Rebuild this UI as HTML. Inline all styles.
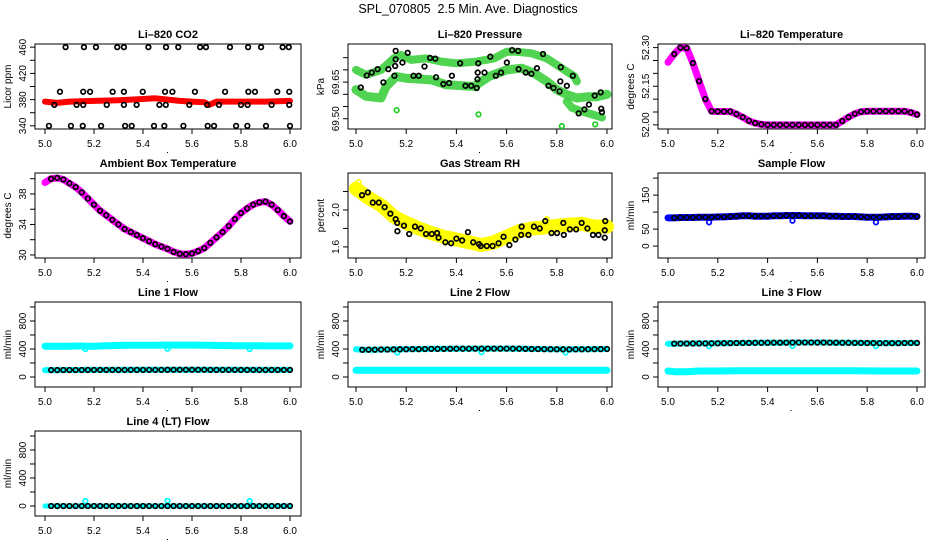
<!DOCTYPE html>
<html><head><meta charset="utf-8"><style>
html,body{margin:0;padding:0;background:#fff}
svg{display:block;font-family:"Liberation Sans",Arial,sans-serif}
</style></head><body>
<svg id="chart" width="936" height="540" viewBox="0 0 936 540" xmlns="http://www.w3.org/2000/svg">
<rect width="936" height="540" fill="#fff"/>
<text x="468" y="13" text-anchor="middle" font-size="12.5">SPL_070805&#160; 2.5 Min. Ave. Diagnostics</text>
</svg>
<script>
const gridX=[5.000,5.025,5.050,5.075,5.100,5.125,5.150,5.175,5.200,5.225,5.250,5.275,5.300,5.325,5.350,5.375,5.400,5.425,5.450,5.475,5.500,5.525,5.550,5.575,5.600,5.625,5.650,5.675,5.700,5.725,5.750,5.775,5.800,5.825,5.850,5.875,5.900,5.925,5.950,5.975,6.000];
const xTicks=[5.0,5.2,5.4,5.6,5.8,6.0];
const xTickLabels=["5.0","5.2","5.4","5.6","5.8","6.0"];
// P1 CO2
const co2RedX=[5.00,5.05,5.10,5.20,5.30,5.40,5.45,5.50,5.55,5.60,5.65,5.67,5.70,5.80,5.90,6.00];
const co2RedY=[377,375,377,378,379,381,382,380,378,377,376,372,377,377,377,378];
const co2BlkX=[5.084,5.159,5.208,5.295,5.322,5.422,5.494,5.544,5.633,5.657,5.755,5.829,5.882,5.970,5.995,5.061,5.156,5.184,5.276,5.322,5.399,5.490,5.520,5.612,5.735,5.830,5.857,5.948,5.997,5.038,5.129,5.156,5.252,5.322,5.374,5.467,5.493,5.589,5.662,5.710,5.800,5.827,5.925,5.997,5.016,5.106,5.154,5.229,5.327,5.354,5.445,5.487,5.565,5.664,5.690,5.780,5.826,5.902,6.000];
const co2BlkY=[460,460,460,460,460,460,460,460,460,460,460,460,460,460,460,392,392,392,392,392,392,392,392,392,392,392,392,392,392,372,372,372,372,372,372,372,372,372,372,372,372,372,372,372,340,340,340,340,340,340,340,340,340,340,340,340,340,340,340];
// P2 Pressure
const prUpX=[5.00,5.04,5.10,5.15,5.18,5.22,5.28,5.34,5.40,5.48,5.55,5.60,5.64,5.70,5.76,5.82,5.87,5.88];
const prUpY=[69.700,69.680,69.700,69.747,69.761,69.741,69.747,69.734,69.727,69.734,69.747,69.774,69.774,69.768,69.747,69.707,69.673,69.653];
const prLoX=[5.00,5.04,5.10,5.12,5.16,5.20,5.30,5.36,5.47,5.53,5.60,5.66,5.71,5.76,5.80,5.84,5.88,5.92,5.96,6.00];
const prLoY=[69.619,69.592,69.585,69.632,69.673,69.666,69.659,69.639,69.632,69.673,69.700,69.707,69.686,69.653,69.619,69.599,69.585,69.590,69.590,69.600];
const prBotX=[5.84,5.86,5.90,5.95,5.98];
const prBotY=[69.570,69.545,69.530,69.515,69.505];
const prBlkX=[5.019,5.043,5.063,5.086,5.109,5.129,5.153,5.156,5.158,5.158,5.185,5.206,5.229,5.250,5.273,5.295,5.316,5.319,5.348,5.371,5.382,5.415,5.436,5.459,5.481,5.484,5.485,5.487,5.512,5.535,5.557,5.578,5.601,5.622,5.646,5.648,5.676,5.699,5.721,5.745,5.767,5.787,5.811,5.816,5.814,5.840,5.864,5.887,5.910,5.928,5.951,5.975,5.977,5.980];
const prBlkY=[69.628,69.677,69.689,69.703,69.649,69.703,69.676,69.716,69.743,69.778,69.730,69.770,69.676,69.676,69.714,69.749,69.746,69.670,69.642,69.646,69.676,69.727,69.635,69.635,69.626,69.662,69.689,69.727,69.689,69.754,69.676,69.689,69.730,69.781,69.778,69.703,69.689,69.684,69.707,69.765,69.635,69.626,69.612,69.711,69.653,69.635,69.676,69.522,69.538,69.558,69.595,69.608,69.541,69.527];
const prOutX=[5.162,5.488,5.820,5.953];
const prOutY=[69.535,69.518,69.470,69.477];
// P3 Li-820 temperature
const tempY=[52.243,52.275,52.300,52.298,52.240,52.170,52.100,52.053,52.052,52.052,52.052,52.042,52.030,52.016,52.007,52.002,52.000,52.000,52.000,52.000,52.000,52.000,52.000,52.000,52.000,52.000,52.000,52.000,52.015,52.030,52.043,52.051,52.053,52.053,52.053,52.053,52.053,52.053,52.053,52.048,52.040];
// P4 ambient
const ambY=[39.5,40.0,40.1,39.9,39.4,38.9,38.2,37.4,36.6,35.8,35.2,34.6,34.0,33.4,33.0,32.6,32.2,31.8,31.4,31.1,30.8,30.4,30.15,30.1,30.2,30.5,30.9,31.6,32.3,33.0,33.8,34.7,35.5,36.1,36.6,36.9,37.0,36.6,35.9,35.1,34.4];
// P5 RH
const rhBandX=[5.00,5.05,5.10,5.15,5.20,5.25,5.30,5.35,5.40,5.45,5.50,5.55,5.60,5.65,5.70,5.75,5.80,5.85,5.90,5.95,6.00];
const rhBandY=[2.23,2.13,2.05,1.93,1.86,1.80,1.75,1.71,1.68,1.65,1.62,1.65,1.71,1.77,1.80,1.81,1.83,1.84,1.85,1.82,1.82];
const rhBlkX=[5.024,5.047,5.067,5.091,5.114,5.137,5.158,5.164,5.165,5.191,5.212,5.235,5.258,5.279,5.302,5.323,5.329,5.356,5.379,5.400,5.423,5.446,5.467,5.490,5.497,5.521,5.544,5.568,5.588,5.611,5.635,5.658,5.660,5.687,5.709,5.732,5.754,5.779,5.801,5.826,5.828,5.852,5.877,5.899,5.922,5.944,5.966,5.991,5.993,5.991];
const rhBlkY=[2.16,2.19,2.08,2.08,2.03,1.96,1.90,1.86,1.77,1.83,1.74,1.82,1.80,1.74,1.74,1.75,1.70,1.65,1.64,1.69,1.67,1.76,1.65,1.63,1.61,1.61,1.61,1.64,1.71,1.62,1.68,1.73,1.82,1.73,1.82,1.80,1.88,1.75,1.75,1.86,1.73,1.79,1.79,1.86,1.80,1.73,1.73,1.78,1.88,1.70];
const rhOutX=[5.01,5.76];
const rhOutY=[2.30,1.90];
// P6 Sample flow
const sampY=[83,83,84,84,84,85,85,85,86,86,87,88,89,89,88,88,88,89,89,90,90,90,89,89,89,89,88,88,87,87,87,86,85,85,85,86,87,87,88,88,87];
const sampOutX=[5.165,5.500,5.835];
const sampOutY=[70,75,70];
// Line flows
const l1Up=[440,438,438,440,440,442,442,440,440,442,445,448,450,452,452,452,452,452,454,455,456,456,456,456,455,455,454,454,450,448,448,446,446,446,445,445,444,444,444,444,444];
const l1Lo=[98,99,99,100,100,100,100,101,101,101,101,101,101,101,102,102,102,102,102,102,103,103,103,103,103,103,103,102,102,102,102,102,101,101,101,101,101,101,101,101,101];
const l1OutY=[400,405,400];
const l2Up=[395,388,390,390,392,393,394,395,396,398,398,400,402,402,402,403,404,404,404,405,405,405,405,405,405,404,404,402,400,400,398,397,396,395,394,395,396,397,398,399,400];
const l2Lo=[95,95,95,95,95,95,96,96,96,96,96,96,96,96,96,96,96,96,96,96,96,96,96,96,96,96,96,96,96,96,96,96,96,96,96,96,96,96,96,96,96];
const l2OutY=[350,355,350];
const l3Up=[475,476,478,478,479,480,480,481,482,483,484,485,486,487,488,488,489,490,490,491,492,492,493,493,492,492,491,490,489,488,487,486,485,485,484,484,484,484,485,486,486];
const l3Lo=[85,75,75,75,80,85,86,86,86,87,87,88,88,88,89,89,90,90,90,90,90,90,90,90,90,90,90,89,89,88,88,87,87,87,86,86,86,85,85,85,85];
const l3OutY=[440,445,440];
const l4Blk=[0,0,0,0,0,0,0,0,0,0,0,0,0,0,0,0,0,0,0,0,0,0,0,0,0,0,0,0,0,0,0,0,0,0,0,0,0,0,0,0,0];
const l4OutY=[70,75,70];
const flowOutX=[5.165,5.500,5.835];

const NS="http://www.w3.org/2000/svg";
const svg=document.getElementById('chart');
function mk(tag,attrs,parent){const e=document.createElementNS(NS,tag);for(const k in attrs)e.setAttribute(k,attrs[k]);(parent||svg).appendChild(e);return e;}
const colL=[35,348,658],colR=[301,612,925],colX0=[45,356,668],colX1=[290,607,917];
function panel(r,c,ylim,yt,ylbl,ytitle,title,name){
  const top=44+129*r,bot=top+85,L=colL[c],R=colR[c];
  const g=mk('g',{});
  
  
  const sx=v=>colX0[c]+(v-5)*(colX1[c]-colX0[c]);
  const sy=v=>bot-(v-ylim[0])/(ylim[1]-ylim[0])*85;
  const fr=mk('rect',{x:L,y:top,width:R-L,height:85,fill:'none',stroke:'#000','stroke-width':1},g);
  
  
  const t=mk('text',{x:(L+R)/2,y:top-6,'text-anchor':'middle','font-size':11,'font-weight':'bold'},g);
  t.textContent=title;
  
  
  xTicks.forEach((v,i)=>{
    const x=sx(v);
    mk('line',{x1:x,x2:x,y1:bot,y2:bot+5,stroke:'#000'},g);
    const tl=mk('text',{x:x,y:bot+18,'text-anchor':'middle','font-size':10},g);
    tl.textContent=xTickLabels[i];
    
    
  });
  yt.forEach((v,i)=>{
    const y=sy(v);
    mk('line',{x1:L-5,x2:L,y1:y,y2:y,stroke:'#000'},g);
    if(ylbl[i]){
      const tl=mk('text',{x:L-9,y:y,'text-anchor':'middle','font-size':10,transform:`rotate(-90 ${L-9} ${y})`},g);
      tl.textContent=ylbl[i];
      
      
    }
  });
  const yl=mk('text',{x:L-24,y:(top+bot)/2,'text-anchor':'middle','font-size':10,transform:`rotate(-90 ${L-24} ${(top+bot)/2})`},g);
  yl.textContent=ytitle;
  
  
  mk('rect',{x:(L+R)/2-1,y:bot+23,width:1,height:1,fill:'#000'},g);
  return {g,sx,sy};
}
function band(p,xs,ys,color,w,name,op){
  const pts=xs.map((x,i)=>p.sx(x).toFixed(1)+','+p.sy(ys[i]).toFixed(1)).join(' ');
  const e=mk('polyline',{points:pts,fill:'none',stroke:color,'stroke-width':w,'stroke-linejoin':'round','stroke-linecap':'round','stroke-opacity':op||1},p.g);
  
  
}
function pts(p,xs,ys,color,name,start){
  for(let i=start||0;i<xs.length;i++){
    const e=mk('circle',{cx:p.sx(xs[i]),cy:p.sy(ys[i]),r:2.3,fill:'none',stroke:color,'stroke-width':1.7},p.g);
    
    
  }
}
// Panel 1
let p=panel(0,0,[335.2,464.8],[340,360,380,400,420,440,460],['340','','380','','420','','460'],'Licor ppm','Li\u2013820 CO2','co2');
band(p,co2RedX,co2RedY,'#ff0000',6,'co2-red-series');
pts(p,co2BlkX,co2BlkY,'#000','co2-point');
// Panel 2
p=panel(0,1,[69.458,69.806],[69.50,69.55,69.60,69.65,69.70,69.75],['69.50','','','69.65','',''],'kPa','Li\u2013820 Pressure','pressure');
band(p,prUpX,prUpY,'#33cc33',8,'pressure-green-upper',0.85);
band(p,prLoX,prLoY,'#33cc33',9,'pressure-green-lower',0.85);
band(p,prBotX,prBotY,'#33cc33',8,'pressure-green-bottom',0.85);
pts(p,prBlkX,prBlkY,'#000','pressure-point');
pts(p,prOutX,prOutY,'#22cc22','pressure-outlier');
// Panel 3
p=panel(0,2,[51.984,52.314],[52.00,52.05,52.10,52.15,52.20,52.25,52.30],['52.00','','','52.15','','','52.30'],'degrees C','Li\u2013820 Temperature','licor-temp');
band(p,gridX,tempY,'#ff00ff',7,'licor-temp-magenta');
pts(p,gridX,tempY,'#000','licor-temp-point',1);
// Panel 4
p=panel(1,0,[29.6,40.75],[30,32,34,36,38,40],['30','','34','','38',''],'degrees C','Ambient Box Temperature','ambient');
band(p,gridX,ambY,'#ff00ff',7,'ambient-magenta');
pts(p,gridX,ambY,'#000','ambient-point',1);
// Panel 5
p=panel(1,1,[1.48,2.40],[1.6,1.8,2.0,2.2],['1.6','','2.0',''],'percent','Gas Stream RH','rh');
band(p,rhBandX,rhBandY,'#ffff00',14,'rh-yellow-band');
pts(p,rhOutX,rhOutY,'#ffff00','rh-outlier');
pts(p,rhBlkX,rhBlkY,'#000','rh-point');
// Panel 6
p=panel(1,2,[-35,215],[0,50,100,150,200],['0','50','','150',''],'ml/min','Sample Flow','sample-flow');
band(p,gridX,sampY,'#0000ff',7,'sample-flow-blue');
pts(p,sampOutX,sampOutY,'#0000ff','sample-flow-outlier');
pts(p,gridX,sampY,'#000','sample-flow-point',1);
// Flow panels
const fl=[-143,1071],ft=[0,200,400,600,800,1000],fll=['0','','400','','800',''];
p=panel(2,0,fl,ft,fll,'ml/min','Line 1 Flow','line1');
band(p,gridX,l1Up,'#00ffff',7,'line1-cyan-upper');
band(p,gridX,l1Lo,'#00ffff',6,'line1-cyan-lower');
pts(p,flowOutX,l1OutY,'#00ffff','line1-outlier');
pts(p,gridX,l1Lo,'#000','line1-point',1);
p=panel(2,1,fl,ft,fll,'ml/min','Line 2 Flow','line2');
band(p,gridX,l2Up,'#00ffff',6,'line2-cyan-upper');
band(p,gridX,l2Lo,'#00ffff',7,'line2-cyan-lower');
pts(p,flowOutX,l2OutY,'#00ffff','line2-outlier');
pts(p,gridX,l2Up,'#000','line2-point',1);
p=panel(2,2,fl,ft,fll,'ml/min','Line 3 Flow','line3');
band(p,gridX,l3Up,'#00ffff',6,'line3-cyan-upper');
band(p,gridX,l3Lo,'#00ffff',7,'line3-cyan-lower');
pts(p,flowOutX,l3OutY,'#00ffff','line3-outlier');
pts(p,gridX,l3Up,'#000','line3-point',1);
p=panel(3,0,fl,ft,fll,'ml/min','Line 4 (LT) Flow','line4');
band(p,gridX,l4Blk,'#00ffff',5,'line4-cyan');
pts(p,flowOutX,l4OutY,'#00ffff','line4-outlier');
pts(p,gridX,l4Blk,'#000','line4-point',1);
</script>
</body></html>
